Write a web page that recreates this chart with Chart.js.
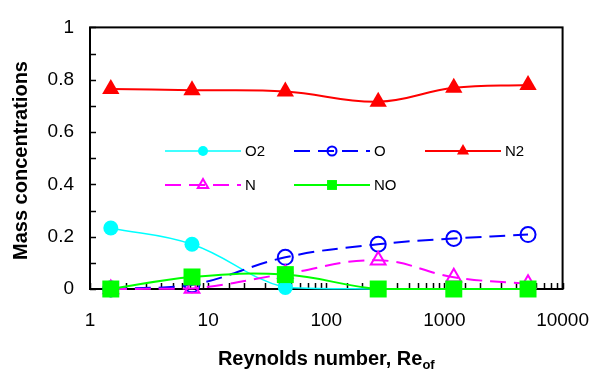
<!DOCTYPE html>
<html>
<head>
<meta charset="utf-8">
<title>Mass concentrations vs Reynolds number</title>
<script src="https://cdn.jsdelivr.net/npm/chart.js@4.4.1/dist/chart.umd.min.js"></script>
<style>
  html, body { margin: 0; padding: 0; background: #ffffff; }
  #wrap { width: 609px; height: 370px; position: relative; }
</style>
</head>
<body>
<div id="wrap"><canvas id="massChart"></canvas></div>
<script>
// ===== DATA =====
const reynolds = [1.5, 7.3, 45, 275, 1200, 5100];
const o2Values = [0.233, 0.171, 0.006, 0, 0, 0];
const oValues  = [0, 0.016, 0.121, 0.171, 0.193, 0.208];
const n2Values = [0.765, 0.760, 0.755, 0.716, 0.769, 0.780];
const nValues  = [0, 0.002, 0.058, 0.11, 0.045, 0.02];
const noValues = [0, 0.046, 0.055, 0, 0, 0];

const seriesNames = ['O2', 'O', 'N2', 'N', 'NO'];
const xTickLabels = [1, 10, 100, 1000, 10000];
const yTickLabels = [0, 0.2, 0.4, 0.6, 0.8, 1];

const xTitle = 'Reynolds number, Re';
const xTitleSub = 'of';
const yTitle = 'Mass concentrations';

const FONT = "'Liberation Sans', Arial, sans-serif";

function toPoints(values) {
  return values.map((v, i) => ({ x: reynolds[i], y: v }));
}

// legend slots inside the plot (x of line start, y of row)
const legendSlots = [
  { x: 165, y: 151, r: 5 },
  { x: 294, y: 151, r: 4.5 },
  { x: 425, y: 151, r: 7 },
  { x: 165, y: 185, r: 6 },
  { x: 294, y: 185, r: 7 }
];

function drawMarker(ctx, style, x, y, r, fill, stroke, lw) {
  ctx.save();
  ctx.beginPath();
  if (style === 'circle') {
    ctx.arc(x, y, r, 0, Math.PI * 2);
  } else if (style === 'triangle') {
    ctx.moveTo(x, y - r);
    ctx.lineTo(x + r * 0.866, y + r * 0.5);
    ctx.lineTo(x - r * 0.866, y + r * 0.5);
  } else {
    const s = r * Math.SQRT1_2;
    ctx.rect(x - s, y - s, 2 * s, 2 * s);
  }
  ctx.closePath();
  if (fill) { ctx.fillStyle = fill; ctx.fill(); }
  if (stroke && lw) { ctx.setLineDash([]); ctx.lineWidth = lw; ctx.strokeStyle = stroke; ctx.stroke(); }
  ctx.restore();
}

const framePlugin = {
  id: 'frame',
  beforeDatasetsDraw(chart) {
    const ctx = chart.ctx;
    const a = chart.chartArea;
    const xs = chart.scales.x, ys = chart.scales.y;

    // inward tick marks
    ctx.save();
    ctx.strokeStyle = '#000';
    ctx.lineWidth = 1.5;
    ys.ticks.forEach(t => {
      const py = Math.round(ys.getPixelForValue(t.value)) + 0.5;
      ctx.beginPath(); ctx.moveTo(a.left, py); ctx.lineTo(a.left + 6, py); ctx.stroke();
    });
    xs.ticks.forEach(t => {
      const px = Math.round(xs.getPixelForValue(t.value)) + 0.5;
      ctx.beginPath(); ctx.moveTo(px, a.bottom); ctx.lineTo(px, a.bottom - 6); ctx.stroke();
    });

    // box
    ctx.lineWidth = 2;
    ctx.strokeRect(a.left, a.top, a.right - a.left, a.bottom - a.top);
    ctx.restore();
  },
  afterDraw(chart) {
    const ctx = chart.ctx;
    const a = chart.chartArea;

    // legend
    chart.data.datasets.forEach((ds, i) => {
      const s = legendSlots[i];
      ctx.save();
      ctx.strokeStyle = ds.borderColor;
      ctx.lineWidth = ds.borderWidth;
      ctx.setLineDash(ds.borderDash || []);
      ctx.beginPath();
      ctx.moveTo(s.x, s.y);
      ctx.lineTo(s.x + 76, s.y);
      ctx.stroke();
      ctx.restore();
      drawMarker(ctx, ds.pointStyle, s.x + 38, s.y, s.r,
        ds.pointBackgroundColor, ds.pointBorderColor, ds.pointBorderWidth);
      ctx.save();
      ctx.fillStyle = '#000';
      ctx.font = '15px ' + FONT;
      ctx.textBaseline = 'middle';
      ctx.textAlign = 'left';
      ctx.fillText(ds.label, s.x + 80, s.y + 1);
      ctx.restore();
    });

    // axis titles
    ctx.save();
    ctx.fillStyle = '#000';
    ctx.textBaseline = 'alphabetic';
    ctx.font = 'bold 20px ' + FONT;
    const wMain = ctx.measureText(xTitle).width;
    ctx.font = 'bold 13px ' + FONT;
    const wSub = ctx.measureText(xTitleSub).width;
    const cx = (a.left + a.right) / 2;
    const x0 = cx - (wMain + wSub) / 2;
    ctx.font = 'bold 20px ' + FONT;
    ctx.fillText(xTitle, x0, 365);
    ctx.font = 'bold 13px ' + FONT;
    ctx.fillText(xTitleSub, x0 + wMain, 369);

    ctx.translate(27, 160.5);
    ctx.rotate(-Math.PI / 2);
    ctx.font = 'bold 20px ' + FONT;
    ctx.textAlign = 'center';
    ctx.fillText(yTitle, 0, 0);
    ctx.restore();
  }
};

const colors = ['#00FFFF', '#0000FF', '#FF0000', '#FF00FF', '#00FF00'];
const seriesValues = [o2Values, oValues, n2Values, nValues, noValues];
const styles = [
  { pointStyle: 'circle',   r: 7.5, open: false, dash: [],      lw: 1.5 },
  { pointStyle: 'circle',   r: 7.5, open: true,  dash: [16, 8], lw: 2 },
  { pointStyle: 'triangle', r: 10,  open: false, dash: [],      lw: 2 },
  { pointStyle: 'triangle', r: 8.5, open: true,  dash: [16, 8], lw: 2 },
  { pointStyle: 'rect',     r: 12,  open: false, dash: [],      lw: 2 }
];

const datasets = seriesNames.map((name, i) => ({
  label: name,
  data: toPoints(seriesValues[i]),
  borderColor: colors[i],
  backgroundColor: colors[i],
  borderWidth: styles[i].lw,
  borderDash: styles[i].dash,
  tension: 0.4,
  fill: false,
  clip: false,
  pointStyle: styles[i].pointStyle,
  pointRadius: styles[i].r,
  pointHoverRadius: styles[i].r,
  pointBackgroundColor: styles[i].open ? 'rgba(0,0,0,0)' : colors[i],
  pointBorderColor: colors[i],
  pointBorderWidth: styles[i].open ? 2 : 0,
  order: seriesNames.length - i
}));

new Chart(document.getElementById('massChart'), {
  type: 'line',
  data: { datasets },
  options: {
    responsive: true,
    maintainAspectRatio: false,
    animation: false,
    events: [],
    layout: { padding: { top: 21, right: 41, left: 0, bottom: 0 } },
    plugins: {
      legend: { display: false },
      tooltip: { enabled: false }
    },
    scales: {
      x: {
        type: 'logarithmic',
        min: 1,
        max: 10000,
        grid: { display: false, drawTicks: false },
        border: { display: false },
        afterFit(scale) { scale.height = 81; },
        ticks: {
          autoSkip: false,
          maxRotation: 0,
          padding: 20,
          color: '#000',
          font: { family: FONT, size: 19 },
          callback: (v) => xTickLabels.includes(v) ? String(v) : ''
        }
      },
      y: {
        min: 0,
        max: 1,
        grid: { display: false, drawTicks: false },
        border: { display: false },
        afterFit(scale) { scale.width = 90; },
        ticks: {
          stepSize: 0.1,
          padding: 16,
          color: '#000',
          font: { family: FONT, size: 19 },
          callback: (v) => {
            const r = Math.round(v * 10) / 10;
            return yTickLabels.some(t => Math.abs(t - r) < 1e-9) ? String(r) : '';
          }
        }
      }
    }
  },
  plugins: [framePlugin]
});
</script>
</body>
</html>
